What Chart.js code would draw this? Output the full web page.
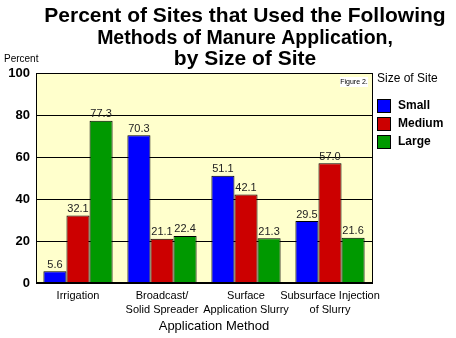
<!DOCTYPE html>
<html>
<head>
<meta charset="utf-8">
<script src="https://cdn.jsdelivr.net/npm/chart.js@4"></script>
<style>
  html, body { margin: 0; padding: 0; background: #ffffff; }
  #wrap { width: 456px; height: 338px; }
</style>
</head>
<body>
<div id="wrap"><canvas id="myChart"></canvas></div>
<script>
// Data
const methods = [
    'Irrigation',
    ['Broadcast/', 'Solid Spreader'],
    ['Surface', 'Application Slurry'],
    ['Subsurface Injection', 'of Slurry']
];
const sizes = ['Small', 'Medium', 'Large'];
const small = [5.6, 70.3, 51.1, 29.5];
const medium = [32.1, 21.1, 42.1, 57.0];
const large = [77.3, 22.4, 21.3, 21.6];
const yTicks = [0, 20, 40, 60, 80, 100];
const colors = ['#0000ff', '#cc0000', '#009900'];

const FONT = '"Liberation Sans", Arial, sans-serif';

// title text, font size, baseline
const titleLines = [
    ['Percent of Sites that Used the Following', 21, 21.5],
    ['Methods of Manure Application,', 19.5, 43.5],
    ['by Size of Site', 21, 65]
];

// Yellow plot panel, border, title, legend, value labels
const decor = {
    id: 'decor',
    beforeDraw(chart) {
        const {ctx, chartArea: a} = chart;
        ctx.save();
        ctx.fillStyle = '#ffffcc';
        ctx.fillRect(a.left, a.top, a.right - a.left, a.bottom - a.top);
        ctx.restore();
    },
    afterDatasetsDraw(chart) {
        const {ctx, chartArea: a} = chart;
        ctx.save();
        // frame
        ctx.strokeStyle = '#000';
        ctx.lineWidth = 1;
        ctx.strokeRect(a.left + 0.5, a.top + 0.5, a.right - a.left, a.bottom - a.top);
        ctx.lineWidth = 2;
        ctx.beginPath();
        ctx.moveTo(a.left, a.bottom);
        ctx.lineTo(a.right + 1, a.bottom);
        ctx.stroke();

        // value labels
        ctx.fillStyle = '#222';
        ctx.font = '11px ' + FONT;
        ctx.textAlign = 'center';
        ctx.textBaseline = 'bottom';
        chart.data.datasets.forEach((ds, i) => {
            chart.getDatasetMeta(i).data.forEach((bar, j) => {
                ctx.fillText(ds.data[j].toFixed(1), bar.x, bar.y - 1);
            });
        });

        // figure tag
        ctx.fillStyle = '#fff';
        ctx.fillRect(a.right - 32, a.top + 4, 28, 10);
        ctx.fillStyle = '#000';
        ctx.font = '7px ' + FONT;
        ctx.textBaseline = 'middle';
        ctx.fillText('Figure 2.', a.right - 18, a.top + 9.5);

        // title
        ctx.textBaseline = 'alphabetic';
        titleLines.forEach(([t, size, y]) => {
            ctx.font = 'bold ' + size + 'px ' + FONT;
            ctx.fillText(t, 245, y);
        });

        // x axis caption
        ctx.font = '13px ' + FONT;
        ctx.fillText('Application Method', 214, 330);

        // y axis caption
        ctx.textAlign = 'left';
        ctx.font = '10px ' + FONT;
        ctx.fillText('Percent', 4, 62);

        // legend
        ctx.font = '12px ' + FONT;
        ctx.fillText('Size of Site', 377, 82);
        ctx.font = 'bold 12px ' + FONT;
        ctx.textBaseline = 'middle';
        chart.data.datasets.forEach((ds, i) => {
            const y = 99 + i * 18;
            ctx.fillStyle = ds.backgroundColor;
            ctx.fillRect(377, y, 13, 13);
            ctx.strokeStyle = '#000';
            ctx.lineWidth = 1;
            ctx.strokeRect(377.5, y + 0.5, 13, 13);
            ctx.fillStyle = '#000';
            ctx.fillText(ds.label, 398, y + 7);
        });
        ctx.restore();
    }
};

const dataBar = {
    labels: methods,
    datasets: [small, medium, large].map((vals, i) => ({
        label: sizes[i],
        data: vals,
        backgroundColor: colors[i],
        borderColor: '#000',
        borderWidth: 1,
        barPercentage: 1,
        categoryPercentage: 0.824
    }))
};

const configBar = {
    type: 'bar',
    data: dataBar,
    options: {
        responsive: true,
        maintainAspectRatio: false,
        animation: false,
        layout: {
            padding: {top: 73, right: 84, bottom: 0, left: 0}
        },
        scales: {
            x: {
                grid: {display: false},
                border: {display: false},
                ticks: {
                    color: '#000',
                    maxRotation: 0,
                    autoSkip: false,
                    padding: -2,
                    font: {family: FONT, size: 11, lineHeight: 1.27}
                },
                afterFit(scale) { scale.height = 55; }
            },
            y: {
                min: 0,
                max: 100,
                afterBuildTicks(scale) { scale.ticks = yTicks.map(v => ({value: v})); },
                grid: {color: '#000', lineWidth: 1, drawTicks: false},
                border: {display: false},
                ticks: {
                    color: '#000',
                    padding: 6,
                    font: {family: FONT, size: 13, weight: 'bold'}
                },
                afterFit(scale) { scale.width = 36; }
            }
        },
        plugins: {
            legend: {display: false},
            tooltip: {enabled: false}
        }
    },
    plugins: [decor]
};

const myChart = new Chart(document.querySelector('#myChart'), configBar);
</script>
</body>
</html>
